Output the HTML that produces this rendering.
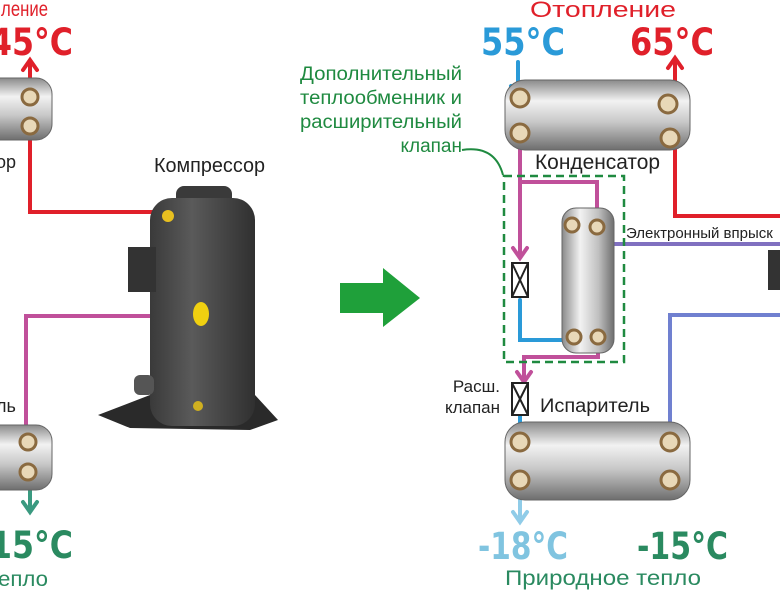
<!DOCTYPE html>
<html><head><meta charset="utf-8"><style>
html,body{margin:0;padding:0;background:#fff;}
svg{display:block;font-family:"Liberation Sans","DejaVu Sans",sans-serif;}
.t{font-family:"DejaVu Sans","Liberation Sans",sans-serif;font-weight:bold;font-size:37px;}
</style></head><body>
<svg width="780" height="600" viewBox="0 0 780 600" xmlns="http://www.w3.org/2000/svg">
<defs>
<linearGradient id="cyl" x1="0" y1="0" x2="0" y2="1">
<stop offset="0" stop-color="#8a8a8a"/><stop offset="0.3" stop-color="#f2f2f2"/><stop offset="0.6" stop-color="#c8c8c8"/><stop offset="1" stop-color="#6e6e6e"/></linearGradient>
<linearGradient id="cylv" x1="0" y1="0" x2="1" y2="0">
<stop offset="0" stop-color="#8a8a8a"/><stop offset="0.35" stop-color="#f2f2f2"/><stop offset="0.7" stop-color="#c0c0c0"/><stop offset="1" stop-color="#6e6e6e"/></linearGradient>
<linearGradient id="comp" x1="0" y1="0" x2="1" y2="0">
<stop offset="0" stop-color="#3a3a3a"/><stop offset="0.4" stop-color="#5a5a5a"/><stop offset="1" stop-color="#303030"/></linearGradient>
</defs>
<g fill="none" stroke-width="4" stroke-linecap="round">
<path d="M30 140 V212 H172" stroke="#e0202a"/>
<path d="M30 110 V62 M23 70 L30 60 L37 70" stroke="#e0202a"/>
<path d="M196 316 H26 V440" stroke="#c0509a"/>
<path d="M30 480 V510 M23 502 L30 512 L37 502" stroke="#3a9a80"/>
<path d="M518 62 V95 M511 86 L518 96 L525 86" stroke="#2a9ad8"/>
<path d="M675 100 V60 M668 68 L675 58 L682 68" stroke="#e0202a"/>
<path d="M675 140 V216 H780" stroke="#e0202a"/>
<path d="M520 140 V255 M513 248 L520 258 L527 248" stroke="#c0509a"/>
<path d="M520 182 H597 V220" stroke="#c0509a"/>
<path d="M520 300 V340 H572" stroke="#2a9ad8"/>
<path d="M598 338 V357 H524 V380 M517 372 L524 382 L531 372" stroke="#c0509a"/>
<path d="M570 230 V244 H780" stroke="#8070c0"/>
<path d="M520 416 V440" stroke="#2a9ad8"/>
<path d="M520 490 V520 M513 512 L520 522 L527 512" stroke="#90cce8"/>
<path d="M670 470 V315 H780" stroke="#7080d0"/>
</g>
<rect x="-20" y="78" width="72" height="62" rx="16" fill="url(#cyl)" stroke="#666"/>
<circle cx="30" cy="97" r="8" fill="#e8d8b8" stroke="#8a6a40" stroke-width="3"/>
<circle cx="30" cy="126" r="8" fill="#e8d8b8" stroke="#8a6a40" stroke-width="3"/>
<rect x="-20" y="425" width="72" height="65" rx="16" fill="url(#cyl)" stroke="#666"/>
<circle cx="28" cy="442" r="8" fill="#e8d8b8" stroke="#8a6a40" stroke-width="3"/>
<circle cx="28" cy="472" r="8" fill="#e8d8b8" stroke="#8a6a40" stroke-width="3"/>
<polygon points="98,415 150,395 255,395 278,420 250,430 130,428" fill="#2a2a2a"/>
<rect x="176" y="186" width="56" height="20" rx="8" fill="#3a3a3a"/>
<rect x="150" y="198" width="105" height="228" rx="22" fill="url(#comp)"/>
<rect x="128" y="247" width="28" height="45" fill="#333"/>
<rect x="134" y="375" width="20" height="20" rx="6" fill="#555"/>
<circle cx="168" cy="216" r="6" fill="#e8c020"/>
<ellipse cx="201" cy="314" rx="8" ry="12" fill="#f0d010"/>
<circle cx="198" cy="406" r="5" fill="#d0b020"/>
<polygon points="340,283 383,283 383,268 420,298 383,327 383,313 340,313" fill="#1fa03a"/>
<rect x="505" y="80" width="185" height="70" rx="20" fill="url(#cyl)" stroke="#666"/>
<circle cx="520" cy="98" r="9" fill="#e8d8b8" stroke="#8a6a40" stroke-width="3"/>
<circle cx="520" cy="133" r="9" fill="#e8d8b8" stroke="#8a6a40" stroke-width="3"/>
<circle cx="668" cy="104" r="9" fill="#e8d8b8" stroke="#8a6a40" stroke-width="3"/>
<circle cx="670" cy="138" r="9" fill="#e8d8b8" stroke="#8a6a40" stroke-width="3"/>
<rect x="504" y="176" width="120" height="186" fill="none" stroke="#1f8a40" stroke-width="2.5" stroke-dasharray="8,5"/>
<path d="M462 150 Q495 145 503 175" fill="none" stroke="#1f8a40" stroke-width="2"/>
<rect x="562" y="208" width="52" height="145" rx="14" fill="url(#cylv)" stroke="#666"/>
<circle cx="572" cy="225" r="7" fill="#e8d8b8" stroke="#8a6a40" stroke-width="3"/>
<circle cx="597" cy="227" r="7" fill="#e8d8b8" stroke="#8a6a40" stroke-width="3"/>
<circle cx="574" cy="337" r="7" fill="#e8d8b8" stroke="#8a6a40" stroke-width="3"/>
<circle cx="598" cy="337" r="7" fill="#e8d8b8" stroke="#8a6a40" stroke-width="3"/>
<g fill="#fff" stroke="#222" stroke-width="2">
<rect x="512" y="263" width="16" height="34"/><path d="M512 263 L528 297 M528 263 L512 297"/>
<rect x="512" y="383" width="16" height="32"/><path d="M512 383 L528 415 M528 383 L512 415"/>
</g>
<rect x="505" y="422" width="185" height="78" rx="20" fill="url(#cyl)" stroke="#666"/>
<circle cx="520" cy="442" r="9" fill="#e8d8b8" stroke="#8a6a40" stroke-width="3"/>
<circle cx="520" cy="480" r="9" fill="#e8d8b8" stroke="#8a6a40" stroke-width="3"/>
<circle cx="670" cy="442" r="9" fill="#e8d8b8" stroke="#8a6a40" stroke-width="3"/>
<circle cx="670" cy="480" r="9" fill="#e8d8b8" stroke="#8a6a40" stroke-width="3"/>
<rect x="768" y="250" width="14" height="40" fill="#333"/>
<text x="-8" y="16" font-size="21" fill="#e0202a" textLength="56" lengthAdjust="spacingAndGlyphs">пление</text>
<text class="t" x="-10" y="55" fill="#e0202a" textLength="83" lengthAdjust="spacingAndGlyphs">45°C</text>
<text x="-4" y="168" font-size="18" fill="#222">ор</text>
<text x="154" y="172" font-size="20" fill="#222" textLength="111" lengthAdjust="spacingAndGlyphs">Компрессор</text>
<text x="-4" y="412" font-size="18" fill="#222">ль</text>
<text class="t" x="-10" y="558" fill="#2a8a60" textLength="83" lengthAdjust="spacingAndGlyphs">15°C</text>
<text x="-2" y="586" font-size="21" fill="#2a8a60" textLength="50" lengthAdjust="spacingAndGlyphs">епло</text>
<text x="530" y="17" font-size="22" fill="#e0202a" textLength="146" lengthAdjust="spacingAndGlyphs">Отопление</text>
<text class="t" x="481" y="55" fill="#2a9ad8" textLength="84" lengthAdjust="spacingAndGlyphs">55°C</text>
<text class="t" x="630" y="55" fill="#e0202a" textLength="84" lengthAdjust="spacingAndGlyphs">65°C</text>
<g font-size="19" fill="#1f8a40" text-anchor="end">
<text x="462" y="80" textLength="162" lengthAdjust="spacingAndGlyphs">Дополнительный</text>
<text x="462" y="104" textLength="162" lengthAdjust="spacingAndGlyphs">теплообменник и</text>
<text x="462" y="128" textLength="162" lengthAdjust="spacingAndGlyphs">расширительный</text>
<text x="462" y="152">клапан</text>
</g>
<text x="535" y="169" font-size="21" fill="#222" textLength="125" lengthAdjust="spacingAndGlyphs">Конденсатор</text>
<text x="626" y="238" font-size="15" fill="#222">Электронный впрыск</text>
<text x="500" y="392" font-size="17" fill="#222" text-anchor="end">Расш.</text>
<text x="500" y="413" font-size="17" fill="#222" text-anchor="end">клапан</text>
<text x="540" y="412" font-size="19" fill="#222" textLength="110" lengthAdjust="spacingAndGlyphs">Испаритель</text>
<text class="t" x="478" y="559" fill="#80c4e0" textLength="90" lengthAdjust="spacingAndGlyphs">-18°C</text>
<text class="t" x="637" y="559" fill="#2a8a60" textLength="91" lengthAdjust="spacingAndGlyphs">-15°C</text>
<text x="505" y="585" font-size="21" fill="#2a8a60" textLength="196" lengthAdjust="spacingAndGlyphs">Природное тепло</text>
</svg>
</body></html>
